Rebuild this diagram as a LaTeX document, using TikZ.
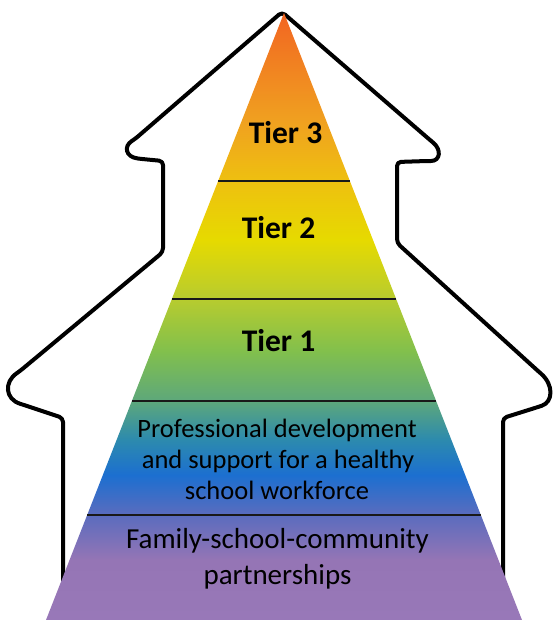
\documentclass[tikz,border=0pt]{standalone}
\usepackage{fontspec}
\setmainfont{Carlito}
\usetikzlibrary{calc}
\definecolor{cA}{HTML}{9878B8}
\definecolor{cB}{HTML}{9575B5}
\definecolor{cC}{HTML}{5A6CBE}
\definecolor{cD}{HTML}{1C6FD0}
\definecolor{cE}{HTML}{2C8AAE}
\definecolor{cF}{HTML}{5EA87A}
\definecolor{cG}{HTML}{82C04C}
\definecolor{cH}{HTML}{B8CC2E}
\definecolor{cI}{HTML}{E6DA00}
\definecolor{cJ}{HTML}{EEC010}
\definecolor{cK}{HTML}{F0A020}
\definecolor{cL}{HTML}{F26522}
\pgfdeclareverticalshading{pyramidshade}{100bp}{
 color(0bp)=(cA);
 color(25bp)=(cA);
 color(29.94bp)=(cB);
 color(33.65bp)=(cC);
 color(36.94bp)=(cD);
 color(39.83bp)=(cE);
 color(43.12bp)=(cF);
 color(47.2bp)=(cG);
 color(51.52bp)=(cH);
 color(56.30bp)=(cI);
 color(61.16bp)=(cJ);
 color(66.19bp)=(cK);
 color(75bp)=(cL);
 color(100bp)=(cL)}
\tikzset{
 house/.style={line width=4pt, line join=round, line cap=round, rounded corners=4pt},
 sep/.style={line width=2.4pt, black!90},
 tier/.style={font=\bfseries\fontsize{31.5}{36}\selectfont, inner sep=0pt, anchor=base},
 pd/.style={font=\fontsize{26.5}{31}\selectfont, inner sep=0pt, anchor=base},
 fam/.style={font=\fontsize{29}{35}\selectfont, inner sep=0pt, anchor=base}
}
\begin{document}
\begin{tikzpicture}[x=1pt,y=-1pt]
\useasboundingbox (0,0) rectangle (553,620);
% house outline
\draw[house] (63,605) -- (63,418) -- (24,405)
  .. controls (5,399) and (4,382) .. (20,371)
  -- (163,252) -- (163,161) -- (142,159)
  .. controls (125,157) and (124,146) .. (135,139)
  -- (282,12) -- (430,140)
  .. controls (442,150) and (440,161) .. (427,161)
  -- (397,162) -- (397,243) -- (538,371)
  .. controls (554,385) and (553,402) .. (538,407)
  -- (503,418) -- (503,605);
% pyramid
\coordinate (apex) at (284,13);
\coordinate (bl) at (46,620);
\coordinate (br) at (522,620);
\shade[shading=pyramidshade] (apex) -- (bl) -- (br) -- cycle;
% separators
\draw[sep] ($(apex)!0.2768!(bl)$) -- ($(apex)!0.2768!(br)$);
\draw[sep] ($(apex)!0.4712!(bl)$) -- ($(apex)!0.4712!(br)$);
\draw[sep] ($(apex)!0.6392!(bl)$) -- ($(apex)!0.6392!(br)$);
\draw[sep] ($(apex)!0.8270!(bl)$) -- ($(apex)!0.8270!(br)$);
% labels
\node[tier] (t3) at (285.5,144) {Tier 3};
\node[tier] (t2) at (278.5,238) {Tier 2};
\node[tier] (t1) at (278.5,351) {Tier 1};
\node[pd] (pd1) at (277,437) {Professional development};
\node[pd] (pd2) at (278,468) {and support for a healthy};
\node[pd] (pd3) at (277,499) {school workforce};
\node[fam] (f1) at (277.5,548) {Family-school-community};
\node[fam] (f2) at (277.5,584) {partnerships};
\end{tikzpicture}
\end{document}
